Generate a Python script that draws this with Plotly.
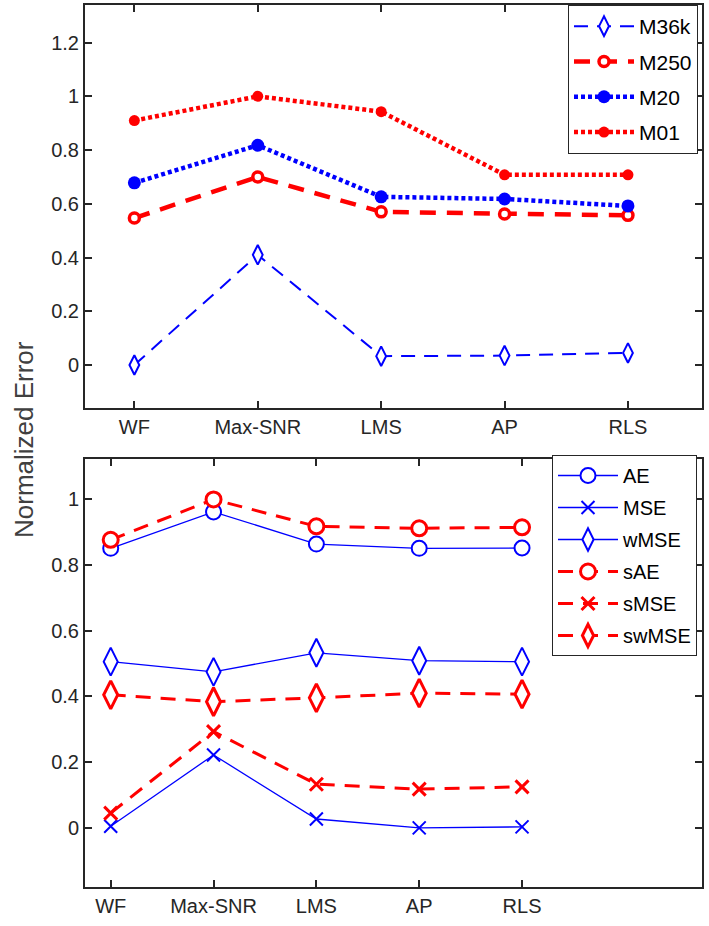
import plotly.graph_objects as go

methods = ["WF", "Max-SNR", "LMS", "AP", "RLS"]
xpos = [1, 2, 3, 4, 5]

# Top panel
m36k = [0.0, 0.41, 0.033, 0.035, 0.045]
m250 = [0.547, 0.70, 0.57, 0.562, 0.557]
m20 = [0.678, 0.818, 0.626, 0.618, 0.592]
m01 = [0.91, 1.0, 0.943, 0.708, 0.708]

# Bottom panel
ae = [0.851, 0.962, 0.864, 0.851, 0.852]
mse = [0.005, 0.222, 0.027, 0.0, 0.003]
wmse = [0.506, 0.475, 0.533, 0.509, 0.506]
sae = [0.877, 1.0, 0.918, 0.912, 0.915]
smse = [0.045, 0.293, 0.133, 0.118, 0.125]
swmse = [0.405, 0.384, 0.396, 0.41, 0.407]

top_yticks = [0, 0.2, 0.4, 0.6, 0.8, 1, 1.2]
bot_yticks = [0, 0.2, 0.4, 0.6, 0.8, 1]

BLUE = "#0000ff"
RED = "#ff0000"
AXC = "#262626"
FONT = "Liberation Sans, Arial, sans-serif"

fig = go.Figure()

def add(y, name, color, width, dash, symbol, msize, mline, filled, xa, ya, legend, grp):
    if symbol.startswith("x"):
        marker = dict(symbol=symbol, size=msize, color=color, line=dict(color=color, width=mline))
    else:
        marker = dict(symbol=symbol, size=msize, color=color if filled else "white",
                      line=dict(color=color, width=mline))
    fig.add_trace(go.Scatter(
        x=xpos, y=y, name=name, mode="lines+markers",
        line=dict(color=color, width=width, dash=dash),
        marker=marker, xaxis=xa, yaxis=ya, legend=legend, legendgroup=grp,
    ))

add(m36k, "M36k", BLUE, 2, "14px,9px", "diamond-tall", 14, 2, False, "x", "y", "legend", "a")
add(m250, "M250", RED, 4.5, "16px,11px", "circle", 10, 3.5, False, "x", "y", "legend", "b")
add(m20, "M20", BLUE, 4.5, "4px,3px", "circle", 13, 0, True, "x", "y", "legend", "c")
add(m01, "M01", RED, 4.5, "4px,3px", "circle", 11, 0, True, "x", "y", "legend", "d")

add(ae, "AE", BLUE, 1.3, "solid", "circle", 15, 2, False, "x2", "y2", "legend2", "e")
add(mse, "MSE", BLUE, 1.3, "solid", "x-thin", 13, 2, False, "x2", "y2", "legend2", "f")
add(wmse, "wMSE", BLUE, 1.3, "solid", "diamond-tall", 20, 2, False, "x2", "y2", "legend2", "g")
add(sae, "sAE", RED, 3, "15px,10px", "circle", 15, 3, False, "x2", "y2", "legend2", "h")
add(smse, "sMSE", RED, 3, "15px,10px", "x-thin", 13, 3, False, "x2", "y2", "legend2", "i")
add(swmse, "swMSE", RED, 3, "15px,10px", "diamond-tall", 20, 3, False, "x2", "y2", "legend2", "j")

W, H = 709, 926
xdom = [85 / W, 702 / W]
top_dom = [1 - 408 / H, 1 - 5 / H]
bot_dom = [1 - 887 / H, 1 - 459 / H]

axis_common = dict(showline=True, linecolor=AXC, linewidth=2, mirror="ticks",
                   ticks="inside", ticklen=7, tickwidth=1.5, tickcolor=AXC,
                   showgrid=False, zeroline=False,
                   tickfont=dict(family=FONT, size=20, color=AXC))

fig.update_layout(
    width=W, height=H, margin=dict(l=0, r=0, t=0, b=0),
    paper_bgcolor="white", plot_bgcolor="white",
    font=dict(family=FONT, color=AXC),
    xaxis=dict(domain=xdom, anchor="y", range=[0.6, 5.6], tickvals=xpos, ticktext=methods, **axis_common),
    yaxis=dict(domain=top_dom, anchor="x", range=[-0.16, 1.34], tickvals=top_yticks,
               ticktext=[f"{v:g}" for v in top_yticks], **axis_common),
    xaxis2=dict(domain=xdom, anchor="y2", range=[0.75, 6.75], tickvals=xpos, ticktext=methods, **axis_common),
    yaxis2=dict(domain=bot_dom, anchor="x2", range=[-0.18, 1.123], tickvals=bot_yticks,
                ticktext=[f"{v:g}" for v in bot_yticks], **axis_common),
    legend=dict(x=568 / W, y=1 - 5 / H, xanchor="left", yanchor="top",
                bgcolor="white", bordercolor=AXC, borderwidth=1,
                font=dict(family=FONT, size=21, color="black"),
                tracegroupgap=5, itemwidth=60, traceorder="grouped"),
    legend2=dict(x=552 / W, y=1 - 455 / H, xanchor="left", yanchor="top",
                 bgcolor="white", bordercolor=AXC, borderwidth=1,
                 font=dict(family=FONT, size=20, color="black"),
                 tracegroupgap=3, itemwidth=60, traceorder="grouped"),
    annotations=[dict(text="Normalized Error", x=24 / W, y=1 - 440 / H, xref="paper", yref="paper",
                      xanchor="center", yanchor="middle",
                      showarrow=False, textangle=-90, font=dict(family=FONT, size=26, color="#404040"))],
)

fig.write_html("out.html")
